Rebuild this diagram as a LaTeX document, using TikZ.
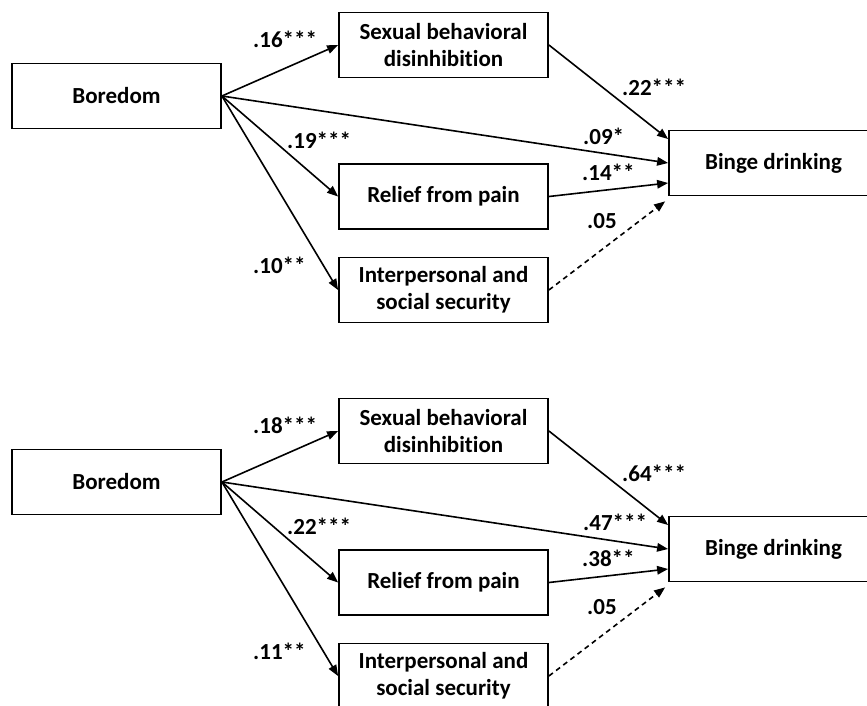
\documentclass[tikz,border=0pt]{standalone}
\usepackage{fontspec}
\setmainfont{Carlito}[Ligatures=NoCommon]
\usetikzlibrary{arrows.meta,calc}
\begin{document}
\begin{tikzpicture}[x=1pt,y=-1pt,
  box/.style={draw, line width=1.8pt, minimum width=209pt, minimum height=65pt, align=center, inner sep=0pt, font=\fontsize{23}{27}\selectfont\bfseries},
  coef/.style={anchor=west, inner sep=0pt, font=\fontsize{23}{27}\selectfont\bfseries},
  conn/.style={line width=1.6pt, -{Triangle[length=11pt,width=8.5pt]}},
  nsconn/.style={conn, dash pattern=on 5pt off 4pt}]
\useasboundingbox (0,0) rectangle (867,705);

% ---------- top model ----------
\node[box] (bor1) at (116.5,96) {Boredom};
\node[box] (sex1) at (443.5,45) {Sexual behavioral\\disinhibition};
\node[box] (rel1) at (443.5,196.5) {Relief from pain};
\node[box] (int1) at (443.5,290) {Interpersonal and\\social security};
\node[box] (bin1) at (773.5,163) {Binge drinking};
\coordinate (b1a) at ($(bin1.west)+(0,-24)$);
\coordinate (b1c) at ($(bin1.west)+(0,20)$);
\coordinate (b1d) at ($(bin1.south west)+(-3,5)$);
\draw[conn] (bor1.east) -- (sex1.west);
\draw[conn] (bor1.east) -- (rel1.west);
\draw[conn] (bor1.east) -- (int1.west);
\draw[conn] (bor1.east) -- (bin1.west);
\draw[conn] (sex1.east) -- (b1a);
\draw[conn] (rel1.east) -- (b1c);
\draw[nsconn] (int1.east) -- (b1d);
\node[coef] (c1a) at (253,39) {.16***};
\node[coef] (c1b) at (287,140) {.19***};
\node[coef] (c1c) at (253,265) {.10**};
\node[coef] (c1d) at (622,87) {.22***};
\node[coef] (c1e) at (583,136) {.09*};
\node[coef] (c1f) at (582,172) {.14**};
\node[coef] (c1g) at (587,221) {.05};

% ---------- bottom model ----------
\node[box] (bor2) at (116.5,482) {Boredom};
\node[box] (sex2) at (443.5,431) {Sexual behavioral\\disinhibition};
\node[box] (rel2) at (443.5,582.5) {Relief from pain};
\node[box] (int2) at (443.5,676) {Interpersonal and\\social security};
\node[box] (bin2) at (773.5,549) {Binge drinking};
\coordinate (b2a) at ($(bin2.west)+(0,-24)$);
\coordinate (b2c) at ($(bin2.west)+(0,20)$);
\coordinate (b2d) at ($(bin2.south west)+(-3,5)$);
\draw[conn] (bor2.east) -- (sex2.west);
\draw[conn] (bor2.east) -- (rel2.west);
\draw[conn] (bor2.east) -- (int2.west);
\draw[conn] (bor2.east) -- (bin2.west);
\draw[conn] (sex2.east) -- (b2a);
\draw[conn] (rel2.east) -- (b2c);
\draw[nsconn] (int2.east) -- (b2d);
\node[coef] (c2a) at (253,425) {.18***};
\node[coef] (c2b) at (287,526) {.22***};
\node[coef] (c2c) at (253,651) {.11**};
\node[coef] (c2d) at (622,473) {.64***};
\node[coef] (c2e) at (583,522) {.47***};
\node[coef] (c2f) at (582,558) {.38**};
\node[coef] (c2g) at (587,607) {.05};
\end{tikzpicture}
\end{document}
